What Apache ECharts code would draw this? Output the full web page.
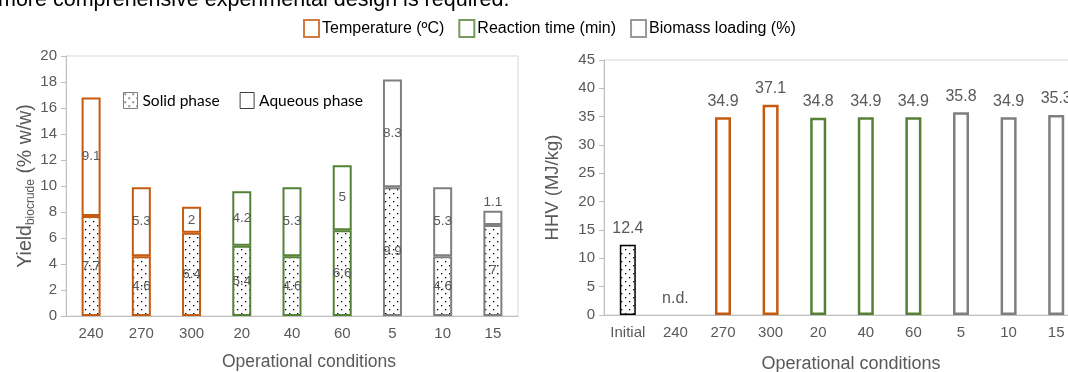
<!DOCTYPE html>
<html><head><meta charset="utf-8">
<script src="https://cdn.jsdelivr.net/npm/echarts@6/dist/echarts.min.js"></script>
<style>html,body{margin:0;padding:0;background:#fff}#c{width:1068px;height:372px}</style>
</head><body><div id="c"></div>
<script>
// ---- data ----
const leftCategories = ['240', '270', '300', '20', '40', '60', '5', '10', '15'];
const leftGroups = ['temp', 'temp', 'temp', 'time', 'time', 'time', 'load', 'load', 'load'];
const solidPhase = [7.7, 4.6, 6.4, 5.4, 4.6, 6.6, 9.9, 4.6, 7];
const aqueousPhase = [9.1, 5.3, 2, 4.2, 5.3, 5, 8.3, 5.3, 1.1];
const rightCategories = ['Initial', '240', '270', '300', '20', '40', '60', '5', '10', '15'];
const rightGroups = ['initial', 'temp', 'temp', 'temp', 'time', 'time', 'time', 'load', 'load', 'load'];
const hhv = [12.4, 0, 34.9, 37.1, 34.8, 34.9, 34.9, 35.8, 34.9, 35.3];
const hhvLabels = ['12.4', 'n.d.', '34.9', '37.1', '34.8', '34.9', '34.9', '35.8', '34.9', '35.3'];
const groupNames = ['Temperature (ºC)', 'Reaction time (min)', 'Biomass loading (%)'];

// ---- styles ----
const groupColors = { temp: '#C55A11', time: '#548235', load: '#7F7F7F', initial: '#000000' };
const legendColors = ['#C55A11', '#548235', '#7F7F7F'];
const FONT = 'Liberation Sans, Arial, sans-serif';
const LABEL = '#595959';

function dotCanvas() {
  const c = document.createElement('canvas');
  c.width = 8; c.height = 8;
  const g = c.getContext('2d');
  g.fillStyle = '#fff'; g.fillRect(0, 0, 8, 8);
  g.fillStyle = '#000';
  g.fillRect(1, 1, 1.3, 1.3);
  g.fillRect(5, 5, 1.3, 1.3);
  return c;
}
const dotPattern = { image: dotCanvas(), repeat: 'repeat' };

const chart = echarts.init(document.getElementById('c'), null, { renderer: 'canvas' });

const axisCommon = {
  axisLine: { show: true, lineStyle: { color: '#bfbfbf', width: 1 } },
  axisLabel: { color: LABEL, fontSize: 15, fontFamily: FONT },
  nameTextStyle: { color: LABEL, fontFamily: FONT }
};

const option = {
  animation: false,
  textStyle: { fontFamily: FONT },
  graphic: [{
    type: 'text', left: -2, top: -11,
    style: { text: 'more comprehensive experimental design is required.', font: '21.5px ' + FONT, fill: '#000' }
  }],
  legend: [{
    data: groupNames.map((n, i) => ({ name: n, icon: 'rect', itemStyle: { color: '#fff', borderColor: legendColors[i], borderWidth: 2 } })),
    left: 298, top: 14, itemWidth: 15, itemHeight: 17, itemGap: 14, selectedMode: false,
    textStyle: { fontSize: 16, color: '#000', fontFamily: FONT, padding: [0, 0, 0, -2] }
  }, {
    data: [
      { name: 'Solid phase', icon: 'rect', itemStyle: { color: dotPattern, borderColor: '#7f7f7f', borderWidth: 1 } },
      { name: 'Aqueous phase', icon: 'rect', itemStyle: { color: '#fff', borderColor: '#404040', borderWidth: 1 } }
    ],
    left: 118, top: 87, itemWidth: 14, itemHeight: 16, itemGap: 20, selectedMode: false,
    textStyle: { fontSize: 15.5, color: '#000', fontFamily: 'Lato, ' + FONT }
  }],
  grid: [
    { left: 66, top: 56, right: 550, height: 260, show: true, borderColor: '#d9d9d9', borderWidth: 1, containLabel: false, outerBoundsMode: 'none' },
    { left: 604, top: 60, right: -12, height: 255, show: true, borderColor: '#d9d9d9', borderWidth: 1, containLabel: false, outerBoundsMode: 'none' }
  ],
  xAxis: [
    Object.assign({}, axisCommon, {
      type: 'category', gridIndex: 0, data: leftCategories,
      axisTick: { show: false },
      axisLabel: Object.assign({}, axisCommon.axisLabel, { interval: 0, margin: 10 }),
      name: 'Operational conditions', nameLocation: 'middle', nameGap: 37,
      nameTextStyle: { color: LABEL, fontFamily: FONT, fontSize: 17.5, padding: [0, 0, 0, 34] }
    }),
    Object.assign({}, axisCommon, {
      type: 'category', gridIndex: 1, data: rightCategories,
      axisTick: { show: false },
      axisLabel: Object.assign({}, axisCommon.axisLabel, { interval: 0, margin: 10 }),
      name: 'Operational conditions', nameLocation: 'middle', nameGap: 40,
      nameTextStyle: { color: LABEL, fontFamily: FONT, fontSize: 18, padding: [0, 0, 0, 18] }
    })
  ],
  yAxis: [
    Object.assign({}, axisCommon, {
      type: 'value', gridIndex: 0, min: 0, max: 20, interval: 2,
      splitLine: { show: false },
      axisTick: { show: true, length: 5, lineStyle: { color: '#bfbfbf' } },
      axisLabel: Object.assign({}, axisCommon.axisLabel, { margin: 9 }),
      name: '{a|Yield}{b|biocrude}{a| (% w/w)}', nameLocation: 'middle', nameGap: 28,
      nameTextStyle: {
        color: LABEL, fontFamily: FONT,
        rich: {
          a: { fontSize: 19.5, color: LABEL, fontFamily: FONT, lineHeight: 22 },
          b: { fontSize: 12, color: LABEL, fontFamily: FONT, verticalAlign: 'bottom', lineHeight: 7 }
        }
      }
    }),
    Object.assign({}, axisCommon, {
      type: 'value', gridIndex: 1, min: 0, max: 45, interval: 5,
      splitLine: { show: false },
      axisTick: { show: true, length: 5, lineStyle: { color: '#bfbfbf' } },
      axisLabel: Object.assign({}, axisCommon.axisLabel, { margin: 9 }),
      name: 'HHV (MJ/kg)', nameLocation: 'middle', nameGap: 42,
      nameTextStyle: { color: LABEL, fontFamily: FONT, fontSize: 18.5 }
    })
  ],
  series: [
    {
      name: 'Solid phase', type: 'bar', stack: 'yield', xAxisIndex: 0, yAxisIndex: 0, barWidth: 19,
      data: solidPhase.map((v, i) => ({ value: v, itemStyle: { borderColor: groupColors[leftGroups[i]] } })),
      itemStyle: { color: dotPattern, borderWidth: 2 },
      label: { show: true, position: 'inside', color: LABEL, fontSize: 13.5, fontFamily: FONT }
    },
    {
      name: 'Aqueous phase', type: 'bar', stack: 'yield', xAxisIndex: 0, yAxisIndex: 0, barWidth: 19,
      data: aqueousPhase.map((v, i) => ({
        value: v,
        itemStyle: { borderColor: groupColors[leftGroups[i]] },
        label: v < 1.5 ? { position: 'top', distance: 1 } : undefined
      })),
      itemStyle: { color: '#fff', borderWidth: 2 },
      label: { show: true, position: 'inside', color: LABEL, fontSize: 13.5, fontFamily: FONT }
    },
    {
      name: 'HHV', type: 'bar', xAxisIndex: 1, yAxisIndex: 1, barWidth: 16,
      data: hhv.map((v, i) => ({
        value: v,
        itemStyle: {
          color: rightGroups[i] === 'initial' ? dotPattern : '#fff',
          borderColor: groupColors[rightGroups[i]],
          borderWidth: v > 0 ? (rightGroups[i] === 'initial' ? 1.5 : 2.5) : 0
        },
        label: { formatter: hhvLabels[i] }
      })),
      label: { show: true, position: 'top', distance: 8, color: LABEL, fontSize: 16, fontFamily: FONT }
    }
  ].concat(groupNames.map((n, i) => ({
    name: n, type: 'scatter', xAxisIndex: 1, yAxisIndex: 1, data: [],
    itemStyle: { color: '#fff', borderColor: legendColors[i], borderWidth: 2 }
  })))
};
chart.setOption(option);
</script>
</body></html>
